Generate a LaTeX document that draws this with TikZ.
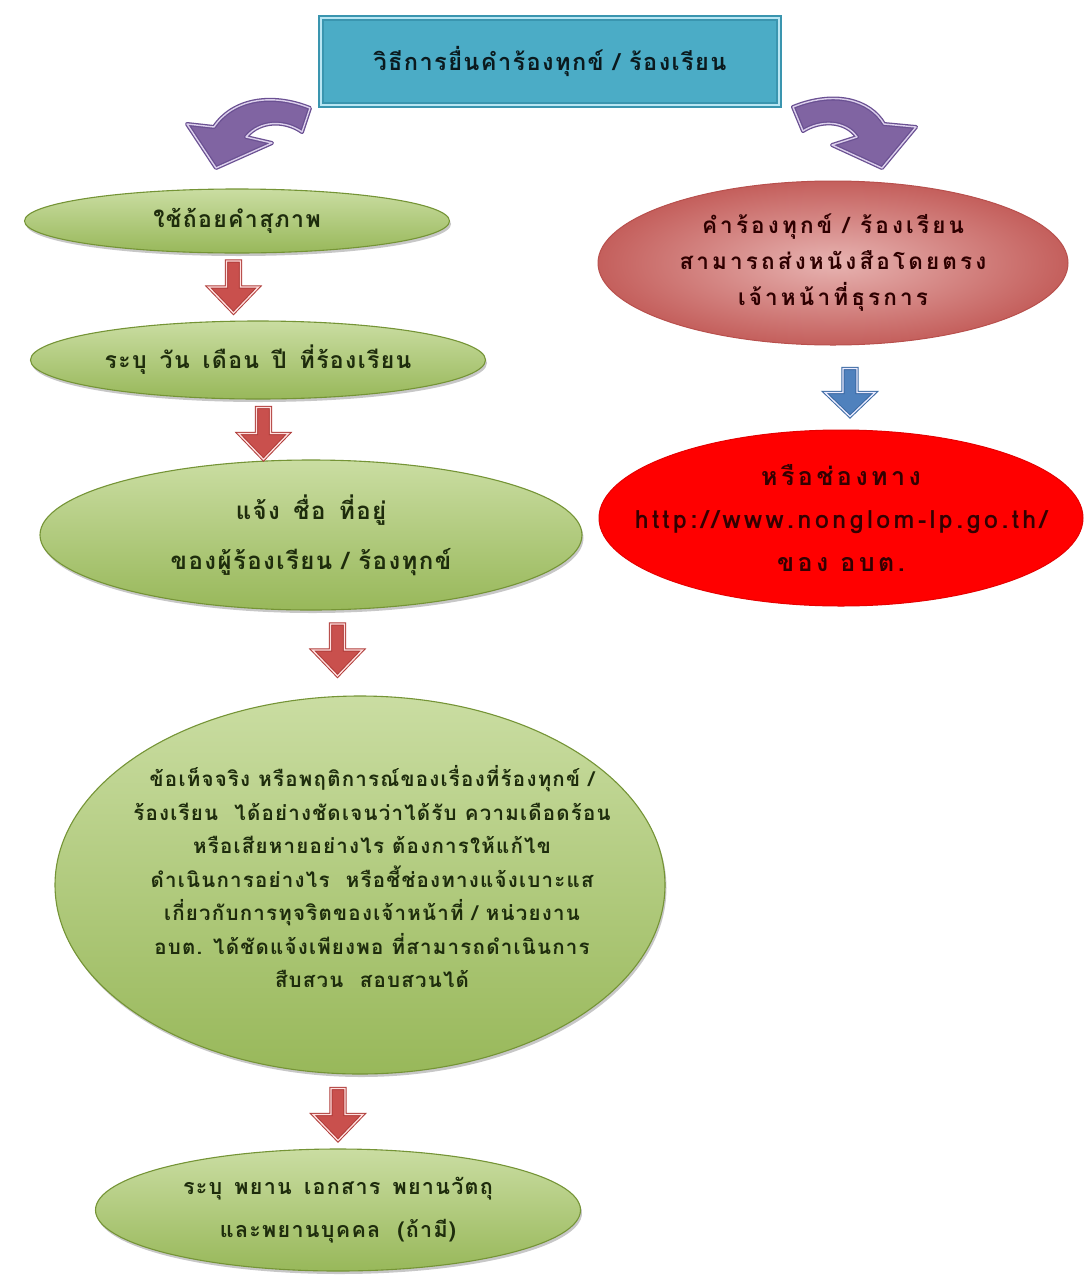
\documentclass[tikz,border=0pt]{standalone}
\usepackage{fontspec}
\newfontfamily\thai[Script=Thai,LetterSpace=6]{Loma}
\newfontfamily\thaiw[Script=Thai,LetterSpace=14]{Loma}
\usetikzlibrary{shapes.geometric,shadows,calc}
\definecolor{teal1}{HTML}{4BACC6}
\definecolor{teal2}{HTML}{3A95AF}
\definecolor{teallight}{HTML}{B9E6F3}
\definecolor{gtop}{HTML}{CADDA2}
\definecolor{gbot}{HTML}{98B85A}
\definecolor{gline}{HTML}{759436}
\definecolor{gtext}{HTML}{1E2C0C}
\definecolor{rosein}{HTML}{E7B3B1}
\definecolor{roseout}{HTML}{C45F5C}
\definecolor{roseline}{HTML}{B8504D}
\definecolor{redfill}{HTML}{FF0000}
\definecolor{purfill}{HTML}{8064A2}
\definecolor{purline}{HTML}{6A5092}
\definecolor{purlight}{HTML}{DCD0EC}
\definecolor{arrred}{HTML}{C9504D}
\definecolor{arrredline}{HTML}{B03C39}
\definecolor{arrblue}{HTML}{4F81BD}
\definecolor{arrblueline}{HTML}{3A69A3}
\begin{document}
\begin{tikzpicture}[x=1pt,y=-1pt,
  titlebox/.style={rectangle,fill=teal1,draw=teal2,line width=2.2pt,double=teallight,double distance=1.6pt,inner sep=0pt},
  titletext/.style={font=\thai\bfseries\fontsize{23.5}{28}\selectfont,text=black!85!teal1},
  gell/.style={ellipse,inner sep=0pt,top color=gtop,bottom color=gbot,draw=gline,line width=1.1pt,
    drop shadow={shadow xshift=1.5pt,shadow yshift=-3pt,fill=black,opacity=0.22}},
  gtxt/.style={font=\thai\bfseries\fontsize{23}{50}\selectfont,text=gtext,align=center},
  rell/.style={ellipse,inner sep=0pt,inner color=rosein,outer color=roseout,draw=roseline,line width=1pt},
  redell/.style={ellipse,inner sep=0pt,fill=redfill,draw=red!90!black,line width=1pt},
  purparrow/.style={fill=purfill,draw=purline,line width=1.3pt,double=purlight,double distance=1.4pt,line join=round},
  redarrow/.style={fill=arrred,draw=arrredline,line width=1pt,double=red!12,double distance=1.3pt,line join=miter},
  bluearrow/.style={fill=arrblue,draw=arrblueline,line width=1pt,double=blue!8,double distance=1.3pt,line join=miter}
]
\useasboundingbox (0,0) rectangle (1085,1275);
\fill[white] (0,0) rectangle (1085,1275);

% title
\node[titlebox,minimum width=458pt,minimum height=87pt] (title) at (550,61.5) {};
\node[titletext] (titlet) at (title) {วิธีการยื่นคำร้องทุกข์ / ร้องเรียน};

% purple curved arrows
\coordinate (lpa) at (310,108);
\coordinate (rpa) at (793,107);
\draw[purparrow] (lpa) .. controls (270,92) and (232,100) .. (214,127) -- (187,124) -- (216,168) -- (272,143) -- (246,137) .. controls (260,120) and (285,120) .. (302,132) -- cycle;
\draw[purparrow] (rpa) .. controls (835,90) and (870,100) .. (884,124) -- (916,127) -- (882,168) -- (832,145) -- (857,137) .. controls (845,120) and (820,120) .. (803,131) -- cycle;

% left column
\node[gell,minimum width=425pt,minimum height=64pt] (g1) at (237,221) {};
\node[gtxt] (g1t) at (g1) {ใช้ถ้อยคำสุภาพ};
\node[gell,minimum width=455pt,minimum height=78pt] (g2) at (258,360) {};
\node[gtxt] (g2t) at (g2) {ระบุ\,~วัน\,~เดือน\,~ปี\,~ที่ร้องเรียน};
\node[gell,minimum width=542pt,minimum height=150pt] (g3) at (311,535) {};
\node[gtxt,font=\thai\bfseries\fontsize{24}{50}\selectfont] (g3t) at (g3) {แจ้ง\,~ชื่อ\,~ที่อยู่\\ของผู้ร้องเรียน / ร้องทุกข์};
\node[gell,minimum width=610pt,minimum height=378pt] (g4) at (360,885) {};
\node[gtxt,font=\thai\bfseries\fontsize{20.5}{33.5}\selectfont] (g4t) at ($(g4)+(12,-8)$) {ข้อเท็จจริง หรือพฤติการณ์ของเรื่องที่ร้องทุกข์ /\\ร้องเรียน~~ได้อย่างชัดเจนว่าได้รับ ความเดือดร้อน\\หรือเสียหายอย่างไร ต้องการให้แก้ไข\\ดำเนินการอย่างไร~~หรือชี้ช่องทางแจ้งเบาะแส\\เกี่ยวกับการทุจริตของเจ้าหน้าที่ / หน่วยงาน\\อบต. ได้ชัดแจ้งเพียงพอ ที่สามารถดำเนินการ\\สืบสวน~~สอบสวนได้};
\node[gell,minimum width=485pt,minimum height=122pt] (g5) at (338,1210) {};
\node[gtxt,font=\thai\bfseries\fontsize{21.5}{43}\selectfont] (g5t) at (g5) {ระบุ\,~พยาน\,~เอกสาร\,~พยานวัตถุ\\และพยานบุคคล~~(ถ้ามี)};

% right column
\node[rell,minimum width=470pt,minimum height=164pt] (r1) at (833,263) {};
\node[font=\thaiw\bfseries\fontsize{22.5}{36}\selectfont,text=black!70!red!60!black,align=center] (r1t) at (r1) {คำร้องทุกข์ / ร้องเรียน\\สามารถส่งหนังสือโดยตรง\\เจ้าหน้าที่ธุรการ};
\node[redell,minimum width=484pt,minimum height=176pt] (r2) at (841,518) {};
\node[font=\thaiw\bfseries\fontsize{25}{43}\selectfont,text=black!80!red,align=center] (r2t) at (r2) {หรือช่องทาง\\http://www.nonglom-lp.go.th/\\ของ อบต.};

% block arrows between nodes
\coordinate (a1) at ($(g1.south)!0.5!(g2.north)+(-14,0)$);
\coordinate (a2) at ($(g2.south)!0.5!(g3.north)+(-21,4)$);
\coordinate (a3) at ($(g3.south)!0.5!(g4.north)+(2,-3)$);
\coordinate (a4) at ($(g4.south)!0.5!(g5.north)+(-11,3)$);
\coordinate (a5) at ($(r1.south)!0.5!(r2.north)+(13,5)$);
\foreach \c in {a1,a2,a3,a4}{
  \draw[redarrow,shift={(\c)}] (-7,-26) -- (7,-26) -- (7,0) -- (25,0) -- (0,26) -- (-25,0) -- (-7,0) -- cycle;
}
\draw[bluearrow,shift={(a5)}] (-7,-24) -- (7,-24) -- (7,0) -- (25,0) -- (0,24) -- (-25,0) -- (-7,0) -- cycle;
\end{tikzpicture}
\end{document}
